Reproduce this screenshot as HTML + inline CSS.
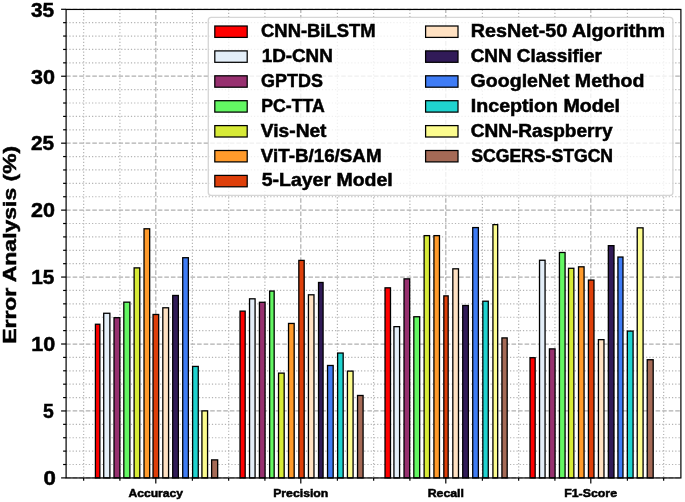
<!DOCTYPE html>
<html><head><meta charset="utf-8"><title>Error Analysis</title>
<style>
html,body{margin:0;padding:0;background:#fff;}
body{width:685px;height:502px;overflow:hidden;}
svg{display:block;will-change:transform;filter:blur(0.35px);}
text{font-family:"Liberation Sans",sans-serif;font-weight:bold;fill:#000;}
</style></head><body>
<svg width="685" height="502" viewBox="0 0 685 502">
<rect x="0" y="0" width="685" height="502" fill="#ffffff"/>
<g stroke="#b4b4b4" stroke-width="1.2" stroke-dasharray="1.22 2.02" fill="none">
<line x1="66.1" y1="464.51" x2="680.9" y2="464.51"/>
<line x1="66.1" y1="451.12" x2="680.9" y2="451.12"/>
<line x1="66.1" y1="437.73" x2="680.9" y2="437.73"/>
<line x1="66.1" y1="424.34" x2="680.9" y2="424.34"/>
<line x1="66.1" y1="397.57" x2="680.9" y2="397.57"/>
<line x1="66.1" y1="384.18" x2="680.9" y2="384.18"/>
<line x1="66.1" y1="370.79" x2="680.9" y2="370.79"/>
<line x1="66.1" y1="357.40" x2="680.9" y2="357.40"/>
<line x1="66.1" y1="330.62" x2="680.9" y2="330.62"/>
<line x1="66.1" y1="317.23" x2="680.9" y2="317.23"/>
<line x1="66.1" y1="303.84" x2="680.9" y2="303.84"/>
<line x1="66.1" y1="290.45" x2="680.9" y2="290.45"/>
<line x1="66.1" y1="263.68" x2="680.9" y2="263.68"/>
<line x1="66.1" y1="250.29" x2="680.9" y2="250.29"/>
<line x1="66.1" y1="236.90" x2="680.9" y2="236.90"/>
<line x1="66.1" y1="223.51" x2="680.9" y2="223.51"/>
<line x1="66.1" y1="196.73" x2="680.9" y2="196.73"/>
<line x1="66.1" y1="183.34" x2="680.9" y2="183.34"/>
<line x1="66.1" y1="169.95" x2="680.9" y2="169.95"/>
<line x1="66.1" y1="156.56" x2="680.9" y2="156.56"/>
<line x1="66.1" y1="129.79" x2="680.9" y2="129.79"/>
<line x1="66.1" y1="116.40" x2="680.9" y2="116.40"/>
<line x1="66.1" y1="103.01" x2="680.9" y2="103.01"/>
<line x1="66.1" y1="89.62" x2="680.9" y2="89.62"/>
<line x1="66.1" y1="62.84" x2="680.9" y2="62.84"/>
<line x1="66.1" y1="49.45" x2="680.9" y2="49.45"/>
<line x1="66.1" y1="36.06" x2="680.9" y2="36.06"/>
<line x1="66.1" y1="22.67" x2="680.9" y2="22.67"/>
<line x1="83.65" y1="9.45" x2="83.65" y2="477.95"/>
<line x1="119.90" y1="9.45" x2="119.90" y2="477.95"/>
<line x1="192.40" y1="9.45" x2="192.40" y2="477.95"/>
<line x1="228.65" y1="9.45" x2="228.65" y2="477.95"/>
<line x1="264.90" y1="9.45" x2="264.90" y2="477.95"/>
<line x1="337.40" y1="9.45" x2="337.40" y2="477.95"/>
<line x1="373.65" y1="9.45" x2="373.65" y2="477.95"/>
<line x1="409.90" y1="9.45" x2="409.90" y2="477.95"/>
<line x1="482.40" y1="9.45" x2="482.40" y2="477.95"/>
<line x1="518.65" y1="9.45" x2="518.65" y2="477.95"/>
<line x1="554.90" y1="9.45" x2="554.90" y2="477.95"/>
<line x1="627.40" y1="9.45" x2="627.40" y2="477.95"/>
<line x1="663.65" y1="9.45" x2="663.65" y2="477.95"/>
</g>
<g stroke="#b0b0b0" stroke-width="1.24" stroke-dasharray="4.57 1.98" fill="none">
<line x1="66.1" y1="477.90" x2="680.9" y2="477.90"/>
<line x1="66.1" y1="410.95" x2="680.9" y2="410.95"/>
<line x1="66.1" y1="344.01" x2="680.9" y2="344.01"/>
<line x1="66.1" y1="277.06" x2="680.9" y2="277.06"/>
<line x1="66.1" y1="210.12" x2="680.9" y2="210.12"/>
<line x1="66.1" y1="143.18" x2="680.9" y2="143.18"/>
<line x1="66.1" y1="76.23" x2="680.9" y2="76.23"/>
<line x1="66.1" y1="9.29" x2="680.9" y2="9.29"/>
<line x1="155.80" y1="477.95" x2="155.80" y2="9.45"/>
<line x1="300.80" y1="477.95" x2="300.80" y2="9.45"/>
<line x1="445.80" y1="477.95" x2="445.80" y2="9.45"/>
<line x1="590.80" y1="477.95" x2="590.80" y2="9.45"/>
</g>
<g stroke="#000" stroke-width="1.3">
<rect x="95.42" y="324.25" width="4.45" height="153.65" fill="#ff0000"/>
<rect x="103.72" y="313.27" width="6.15" height="164.63" fill="#e3eef8"/>
<rect x="114.02" y="317.69" width="5.85" height="160.21" fill="#97306f"/>
<rect x="123.82" y="302.16" width="6.05" height="175.74" fill="#63f763"/>
<rect x="134.12" y="267.88" width="5.65" height="210.02" fill="#d7ea37"/>
<rect x="144.03" y="228.79" width="5.65" height="249.11" fill="#ff9a2b"/>
<rect x="153.03" y="314.48" width="5.65" height="163.42" fill="#de3f0a"/>
<rect x="162.82" y="307.78" width="5.75" height="170.12" fill="#ffe1c2"/>
<rect x="172.72" y="295.47" width="5.65" height="182.43" fill="#311b58"/>
<rect x="182.72" y="257.71" width="5.65" height="220.19" fill="#3f7cf5"/>
<rect x="192.62" y="366.43" width="5.65" height="111.47" fill="#1fd3cf"/>
<rect x="201.92" y="410.88" width="5.65" height="67.02" fill="#fcfc8e"/>
<rect x="211.62" y="459.88" width="6.05" height="18.02" fill="#a56a56"/>
<rect x="240.03" y="311.13" width="5.15" height="166.77" fill="#ff0000"/>
<rect x="249.53" y="298.81" width="5.55" height="179.09" fill="#e3eef8"/>
<rect x="259.43" y="302.29" width="5.65" height="175.61" fill="#97306f"/>
<rect x="269.62" y="291.05" width="4.55" height="186.85" fill="#63f763"/>
<rect x="278.53" y="373.12" width="5.65" height="104.78" fill="#d7ea37"/>
<rect x="288.53" y="323.45" width="5.65" height="154.45" fill="#ff9a2b"/>
<rect x="298.83" y="260.39" width="5.35" height="217.51" fill="#de3f0a"/>
<rect x="308.43" y="294.80" width="5.55" height="183.10" fill="#ffe1c2"/>
<rect x="318.53" y="282.48" width="4.55" height="195.42" fill="#311b58"/>
<rect x="327.53" y="365.49" width="5.65" height="112.41" fill="#3f7cf5"/>
<rect x="337.62" y="353.04" width="5.55" height="124.86" fill="#1fd3cf"/>
<rect x="347.43" y="371.11" width="5.65" height="106.79" fill="#fcfc8e"/>
<rect x="357.53" y="395.48" width="5.55" height="82.42" fill="#a56a56"/>
<rect x="385.03" y="287.83" width="5.45" height="190.07" fill="#ff0000"/>
<rect x="393.93" y="326.66" width="5.65" height="151.24" fill="#e3eef8"/>
<rect x="404.03" y="278.86" width="5.65" height="199.04" fill="#97306f"/>
<rect x="413.83" y="316.75" width="5.85" height="161.15" fill="#63f763"/>
<rect x="424.12" y="235.62" width="5.45" height="242.28" fill="#d7ea37"/>
<rect x="433.93" y="235.62" width="5.55" height="242.28" fill="#ff9a2b"/>
<rect x="443.83" y="295.87" width="4.35" height="182.03" fill="#de3f0a"/>
<rect x="452.83" y="268.82" width="5.65" height="209.08" fill="#ffe1c2"/>
<rect x="462.73" y="305.51" width="5.65" height="172.39" fill="#311b58"/>
<rect x="472.73" y="227.58" width="5.65" height="250.32" fill="#3f7cf5"/>
<rect x="482.83" y="301.22" width="5.45" height="176.68" fill="#1fd3cf"/>
<rect x="492.93" y="224.64" width="4.75" height="253.26" fill="#fcfc8e"/>
<rect x="501.93" y="337.91" width="5.25" height="139.99" fill="#a56a56"/>
<rect x="530.02" y="357.72" width="5.15" height="120.18" fill="#ff0000"/>
<rect x="539.52" y="260.25" width="5.55" height="217.65" fill="#e3eef8"/>
<rect x="549.43" y="348.89" width="5.65" height="129.01" fill="#97306f"/>
<rect x="559.43" y="252.49" width="5.65" height="225.41" fill="#63f763"/>
<rect x="568.52" y="268.29" width="5.35" height="209.61" fill="#d7ea37"/>
<rect x="578.52" y="266.81" width="5.55" height="211.09" fill="#ff9a2b"/>
<rect x="588.43" y="280.07" width="5.55" height="197.83" fill="#de3f0a"/>
<rect x="598.43" y="339.65" width="5.55" height="138.25" fill="#ffe1c2"/>
<rect x="608.33" y="245.66" width="5.65" height="232.24" fill="#311b58"/>
<rect x="617.93" y="257.04" width="5.05" height="220.86" fill="#3f7cf5"/>
<rect x="627.33" y="331.08" width="5.75" height="146.82" fill="#1fd3cf"/>
<rect x="637.23" y="227.85" width="5.85" height="250.05" fill="#fcfc8e"/>
<rect x="647.23" y="359.73" width="5.95" height="118.17" fill="#a56a56"/>
</g>
<rect x="66.1" y="9.45" width="614.80" height="468.50" fill="none" stroke="#000" stroke-width="1.2"/>
<g stroke="#000" stroke-width="1.2">
<line x1="61.099999999999994" y1="477.90" x2="66.1" y2="477.90"/>
<line x1="63.099999999999994" y1="464.51" x2="66.1" y2="464.51"/>
<line x1="63.099999999999994" y1="451.12" x2="66.1" y2="451.12"/>
<line x1="63.099999999999994" y1="437.73" x2="66.1" y2="437.73"/>
<line x1="63.099999999999994" y1="424.34" x2="66.1" y2="424.34"/>
<line x1="61.099999999999994" y1="410.95" x2="66.1" y2="410.95"/>
<line x1="63.099999999999994" y1="397.57" x2="66.1" y2="397.57"/>
<line x1="63.099999999999994" y1="384.18" x2="66.1" y2="384.18"/>
<line x1="63.099999999999994" y1="370.79" x2="66.1" y2="370.79"/>
<line x1="63.099999999999994" y1="357.40" x2="66.1" y2="357.40"/>
<line x1="61.099999999999994" y1="344.01" x2="66.1" y2="344.01"/>
<line x1="63.099999999999994" y1="330.62" x2="66.1" y2="330.62"/>
<line x1="63.099999999999994" y1="317.23" x2="66.1" y2="317.23"/>
<line x1="63.099999999999994" y1="303.84" x2="66.1" y2="303.84"/>
<line x1="63.099999999999994" y1="290.45" x2="66.1" y2="290.45"/>
<line x1="61.099999999999994" y1="277.06" x2="66.1" y2="277.06"/>
<line x1="63.099999999999994" y1="263.68" x2="66.1" y2="263.68"/>
<line x1="63.099999999999994" y1="250.29" x2="66.1" y2="250.29"/>
<line x1="63.099999999999994" y1="236.90" x2="66.1" y2="236.90"/>
<line x1="63.099999999999994" y1="223.51" x2="66.1" y2="223.51"/>
<line x1="61.099999999999994" y1="210.12" x2="66.1" y2="210.12"/>
<line x1="63.099999999999994" y1="196.73" x2="66.1" y2="196.73"/>
<line x1="63.099999999999994" y1="183.34" x2="66.1" y2="183.34"/>
<line x1="63.099999999999994" y1="169.95" x2="66.1" y2="169.95"/>
<line x1="63.099999999999994" y1="156.56" x2="66.1" y2="156.56"/>
<line x1="61.099999999999994" y1="143.18" x2="66.1" y2="143.18"/>
<line x1="63.099999999999994" y1="129.79" x2="66.1" y2="129.79"/>
<line x1="63.099999999999994" y1="116.40" x2="66.1" y2="116.40"/>
<line x1="63.099999999999994" y1="103.01" x2="66.1" y2="103.01"/>
<line x1="63.099999999999994" y1="89.62" x2="66.1" y2="89.62"/>
<line x1="61.099999999999994" y1="76.23" x2="66.1" y2="76.23"/>
<line x1="63.099999999999994" y1="62.84" x2="66.1" y2="62.84"/>
<line x1="63.099999999999994" y1="49.45" x2="66.1" y2="49.45"/>
<line x1="63.099999999999994" y1="36.06" x2="66.1" y2="36.06"/>
<line x1="63.099999999999994" y1="22.67" x2="66.1" y2="22.67"/>
<line x1="61.099999999999994" y1="9.29" x2="66.1" y2="9.29"/>
<line x1="155.80" y1="477.95" x2="155.80" y2="483.45"/>
<line x1="300.80" y1="477.95" x2="300.80" y2="483.45"/>
<line x1="445.80" y1="477.95" x2="445.80" y2="483.45"/>
<line x1="590.80" y1="477.95" x2="590.80" y2="483.45"/>
<line x1="83.65" y1="477.95" x2="83.65" y2="480.75"/>
<line x1="119.90" y1="477.95" x2="119.90" y2="480.75"/>
<line x1="192.40" y1="477.95" x2="192.40" y2="480.75"/>
<line x1="228.65" y1="477.95" x2="228.65" y2="480.75"/>
<line x1="264.90" y1="477.95" x2="264.90" y2="480.75"/>
<line x1="337.40" y1="477.95" x2="337.40" y2="480.75"/>
<line x1="373.65" y1="477.95" x2="373.65" y2="480.75"/>
<line x1="409.90" y1="477.95" x2="409.90" y2="480.75"/>
<line x1="482.40" y1="477.95" x2="482.40" y2="480.75"/>
<line x1="518.65" y1="477.95" x2="518.65" y2="480.75"/>
<line x1="554.90" y1="477.95" x2="554.90" y2="480.75"/>
<line x1="627.40" y1="477.95" x2="627.40" y2="480.75"/>
<line x1="663.65" y1="477.95" x2="663.65" y2="480.75"/>
</g>
<text x="43.55" y="485.20" font-size="19.89" textLength="12.36" lengthAdjust="spacingAndGlyphs" stroke="#000" stroke-width="0.5">0</text>
<text x="42.94" y="418.25" font-size="19.89" textLength="10.77" lengthAdjust="spacingAndGlyphs" stroke="#000" stroke-width="0.5">5</text>
<text x="31.25" y="351.31" font-size="19.89" textLength="23.96" lengthAdjust="spacingAndGlyphs" stroke="#000" stroke-width="0.5">10</text>
<text x="31.24" y="284.37" font-size="19.89" textLength="23.13" lengthAdjust="spacingAndGlyphs" stroke="#000" stroke-width="0.5">15</text>
<text x="30.98" y="217.42" font-size="19.89" textLength="23.93" lengthAdjust="spacingAndGlyphs" stroke="#000" stroke-width="0.5">20</text>
<text x="31.05" y="150.48" font-size="19.89" textLength="23.12" lengthAdjust="spacingAndGlyphs" stroke="#000" stroke-width="0.5">25</text>
<text x="30.93" y="83.53" font-size="19.89" textLength="23.98" lengthAdjust="spacingAndGlyphs" stroke="#000" stroke-width="0.5">30</text>
<text x="30.99" y="16.59" font-size="19.89" textLength="23.18" lengthAdjust="spacingAndGlyphs" stroke="#000" stroke-width="0.5">35</text>
<text x="128.43" y="497.30" font-size="11.47" textLength="54.54" lengthAdjust="spacingAndGlyphs" stroke="#000" stroke-width="0.5">Accuracy</text>
<text x="273.20" y="497.30" font-size="11.47" textLength="55.16" lengthAdjust="spacingAndGlyphs" stroke="#000" stroke-width="0.5">Precision</text>
<text x="427.72" y="497.30" font-size="11.47" textLength="36.24" lengthAdjust="spacingAndGlyphs" stroke="#000" stroke-width="0.5">Recall</text>
<text x="564.18" y="497.30" font-size="11.47" textLength="52.86" lengthAdjust="spacingAndGlyphs" stroke="#000" stroke-width="0.5">F1-Score</text>
<g transform="translate(16.1,244.6) rotate(-90)"><text x="-99.25" y="0.00" font-size="18.91" textLength="198.09" lengthAdjust="spacingAndGlyphs" stroke="#000" stroke-width="0.5">Error Analysis (%)</text>
</g>
<rect x="208.3" y="17.3" width="464.60" height="178.10" rx="3.0" ry="3.0" fill="#ffffff" fill-opacity="0.8" stroke="#cccccc" stroke-opacity="0.8" stroke-width="1.35"/>
<rect x="214.8" y="26.00" width="32.4" height="11.4" fill="#ff0000" stroke="#000" stroke-width="1.25"/>
<text x="261.09" y="37.00" font-size="17.61" textLength="114.49" lengthAdjust="spacingAndGlyphs" stroke="#000" stroke-width="0.5">CNN-BiLSTM</text>
<rect x="214.8" y="50.90" width="32.4" height="11.4" fill="#e3eef8" stroke="#000" stroke-width="1.25"/>
<text x="261.67" y="61.90" font-size="17.61" textLength="71.14" lengthAdjust="spacingAndGlyphs" stroke="#000" stroke-width="0.5">1D-CNN</text>
<rect x="214.8" y="75.80" width="32.4" height="11.4" fill="#97306f" stroke="#000" stroke-width="1.25"/>
<text x="261.11" y="86.80" font-size="17.61" textLength="61.73" lengthAdjust="spacingAndGlyphs" stroke="#000" stroke-width="0.5">GPTDS</text>
<rect x="214.8" y="100.70" width="32.4" height="11.4" fill="#63f763" stroke="#000" stroke-width="1.25"/>
<text x="261.34" y="111.70" font-size="17.61" textLength="63.42" lengthAdjust="spacingAndGlyphs" stroke="#000" stroke-width="0.5">PC-TTA</text>
<rect x="214.8" y="125.60" width="32.4" height="11.4" fill="#d7ea37" stroke="#000" stroke-width="1.25"/>
<text x="260.89" y="136.60" font-size="17.61" textLength="65.63" lengthAdjust="spacingAndGlyphs" stroke="#000" stroke-width="0.5">Vis-Net</text>
<rect x="214.8" y="150.50" width="32.4" height="11.4" fill="#ff9a2b" stroke="#000" stroke-width="1.25"/>
<text x="260.89" y="161.50" font-size="17.61" textLength="120.66" lengthAdjust="spacingAndGlyphs" stroke="#000" stroke-width="0.5">ViT-B/16/SAM</text>
<rect x="214.8" y="175.40" width="32.4" height="11.4" fill="#de3f0a" stroke="#000" stroke-width="1.25"/>
<text x="261.65" y="186.40" font-size="17.61" textLength="131.15" lengthAdjust="spacingAndGlyphs" stroke="#000" stroke-width="0.5">5-Layer Model</text>
<rect x="425.6" y="26.00" width="32.4" height="11.4" fill="#ffe1c2" stroke="#000" stroke-width="1.25"/>
<text x="470.80" y="37.00" font-size="17.61" textLength="194.10" lengthAdjust="spacingAndGlyphs" stroke="#000" stroke-width="0.5">ResNet-50 Algorithm</text>
<rect x="425.6" y="50.90" width="32.4" height="11.4" fill="#311b58" stroke="#000" stroke-width="1.25"/>
<text x="470.67" y="61.90" font-size="17.61" textLength="131.33" lengthAdjust="spacingAndGlyphs" stroke="#000" stroke-width="0.5">CNN Classifier</text>
<rect x="425.6" y="75.80" width="32.4" height="11.4" fill="#3f7cf5" stroke="#000" stroke-width="1.25"/>
<text x="470.64" y="86.80" font-size="17.61" textLength="173.70" lengthAdjust="spacingAndGlyphs" stroke="#000" stroke-width="0.5">GoogleNet Method</text>
<rect x="425.6" y="100.70" width="32.4" height="11.4" fill="#1fd3cf" stroke="#000" stroke-width="1.25"/>
<text x="470.81" y="111.70" font-size="17.61" textLength="149.27" lengthAdjust="spacingAndGlyphs" stroke="#000" stroke-width="0.5">Inception Model</text>
<rect x="425.6" y="125.60" width="32.4" height="11.4" fill="#fcfc8e" stroke="#000" stroke-width="1.25"/>
<text x="470.66" y="136.60" font-size="17.61" textLength="141.88" lengthAdjust="spacingAndGlyphs" stroke="#000" stroke-width="0.5">CNN-Raspberry</text>
<rect x="425.6" y="150.50" width="32.4" height="11.4" fill="#a56a56" stroke="#000" stroke-width="1.25"/>
<text x="471.23" y="161.50" font-size="17.61" textLength="141.87" lengthAdjust="spacingAndGlyphs" stroke="#000" stroke-width="0.5">SCGERS-STGCN</text>
</svg>
</body></html>
